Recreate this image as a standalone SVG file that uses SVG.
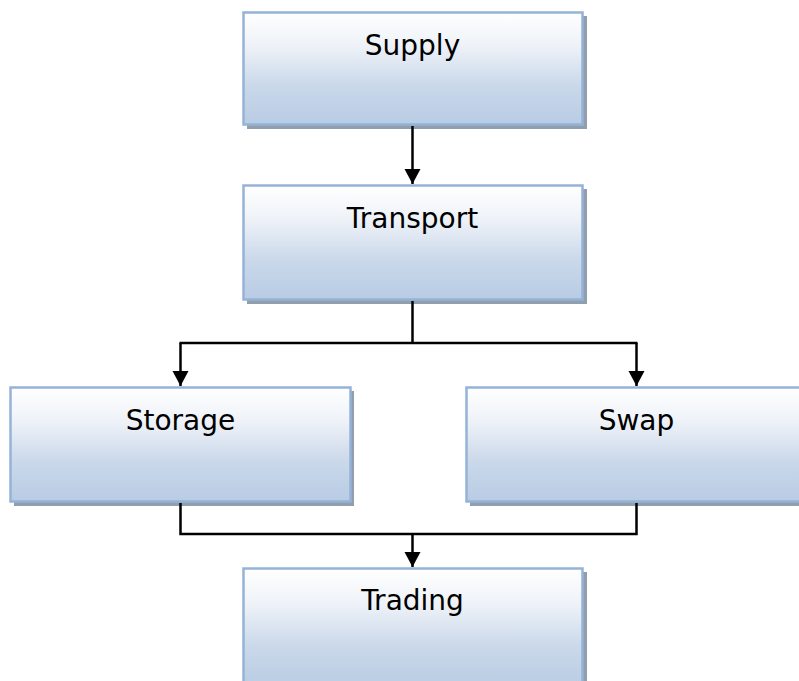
<svg xmlns="http://www.w3.org/2000/svg" width="799" height="681" viewBox="0 0 799 681">
  <defs>
    <linearGradient id="boxFill" x1="0" y1="0" x2="0" y2="1">
      <stop offset="0" stop-color="#ffffff"/>
      <stop offset="0.3" stop-color="#eef2f8"/>
      <stop offset="0.65" stop-color="#cad8ea"/>
      <stop offset="1" stop-color="#b8cce4"/>
    </linearGradient>
    <marker id="arrow" markerUnits="userSpaceOnUse" markerWidth="17" markerHeight="17" refX="15" refY="8" orient="auto">
      <path d="M0,0 L15,8 L0,16 Z" fill="#000"/>
    </marker>
    <style>
      .shadow { fill: #919eae; }
      .box { fill: url(#boxFill); stroke: #95b3d7; stroke-width: 2.5; }
      .label { font-family: "DejaVu Sans", Verdana, sans-serif; font-size: 28px; fill: #000; text-anchor: middle; }
      .wire { fill: none; stroke: #000; stroke-width: 2.5; }
    </style>
  </defs>
  <rect width="799" height="681" fill="#ffffff"/>

  <g id="supply">
    <rect class="shadow" x="247" y="16" width="340" height="113"/>
    <rect class="box" x="243.5" y="12.5" width="339" height="112"/>
    <text class="label" x="412.5" y="55">Supply</text>
  </g>

  <g id="transport">
    <rect class="shadow" x="247" y="189" width="340" height="115"/>
    <rect class="box" x="243.5" y="185.5" width="339" height="114"/>
    <text class="label" x="412.5" y="228">Transport</text>
  </g>

  <g id="storage">
    <rect class="shadow" x="14" y="391" width="340" height="115"/>
    <rect class="box" x="10.5" y="387.5" width="340" height="114"/>
    <text class="label" x="180.5" y="430">Storage</text>
  </g>

  <g id="swap">
    <rect class="shadow" x="470" y="391" width="340" height="115"/>
    <rect class="box" x="466.5" y="387.5" width="340" height="114"/>
    <text class="label" x="636.5" y="430">Swap</text>
  </g>

  <g id="trading">
    <rect class="shadow" x="247" y="572" width="340" height="120"/>
    <rect class="box" x="243.5" y="568.5" width="339" height="120"/>
    <text class="label" x="412.5" y="610">Trading</text>
  </g>

  <g id="connectors">
    <path class="wire" d="M412.5,126 V184" marker-end="url(#arrow)"/>
    <path class="wire" d="M412.5,301 V343"/>
    <path class="wire" d="M179.5,343 H637.5"/>
    <path class="wire" d="M180.5,343 V386" marker-end="url(#arrow)"/>
    <path class="wire" d="M636.5,343 V386" marker-end="url(#arrow)"/>
    <path class="wire" d="M180.5,503 V534 H636.5 V503"/>
    <path class="wire" d="M412.5,534 V567" marker-end="url(#arrow)"/>
  </g>
</svg>
